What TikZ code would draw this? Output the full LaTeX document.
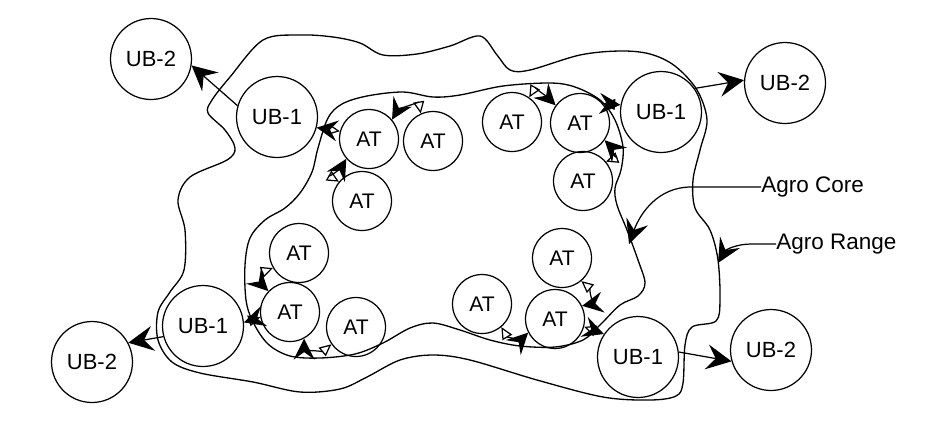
\documentclass[tikz,border=0pt]{standalone}
\usepackage{fontspec}
\setmainfont{Liberation Sans}
\usepackage{xcolor}
\usetikzlibrary{arrows.meta}
\definecolor{InkBlack}{RGB}{0,0,0}
\tikzset{
  ubcirc/.style={circle, draw=InkBlack, line width=0.7pt, minimum size=1.62cm, inner sep=0pt,
    font=\fontsize{12.5}{14}\selectfont},
  atcirc/.style={circle, draw=InkBlack, line width=0.7pt, minimum size=1.18cm, inner sep=0pt,
    font=\fontsize{12}{14}\selectfont},
  zone/.style={draw=InkBlack, line width=0.75pt},
  zonelbl/.style={anchor=west, inner sep=0pt, font=\fontsize{12.8}{14}\selectfont},
  ubarr/.style={-{Stealth[length=0.5cm, width=0.5cm, inset=0.18cm]}, line width=0.7pt, InkBlack},
  atarr/.style={{Triangle[open, length=2.4mm, width=2.2mm]}-{Stealth[length=0.42cm, width=0.42cm, inset=0.15cm]},
    line width=0.7pt, InkBlack},
  leadarr/.style={-{Stealth[length=0.48cm, width=0.46cm, inset=0.18cm]}, line width=0.7pt, InkBlack},
}

\begin{document}
\begin{tikzpicture}[x=0.02cm, y=-0.02cm]
  \useasboundingbox (0,0) rectangle (949,427);
  % zones
  \draw[zone] plot[smooth cycle, tension=0.55] coordinates {
    (263,40) (300,35) (333,37) (360,43) (383,55) (417,54) (450,46) (480,36) (497,55) (510,70)
    (530,70) (580,55) (620,51) (650,54) (675,66) (697,90) (707,120) (700,150) (693,180) (695,208)
    (710,230) (718,260) (720,300) (716,321) (692,327) (685,345) (683,383) (676,396) (650,400)
    (603,397) (537,380) (470,360) (433,355) (400,360) (367,377) (340,389) (300,392) (253,382)
    (200,373) (172,362) (158,340) (158,312) (170,292) (184,270) (185,230) (178,200) (190,177)
    (227,160) (235,148) (225,130) (208,113) (212,100) (230,77)};
  \draw[zone] plot[smooth cycle, tension=0.55] coordinates {
    (328,118) (342,104) (367,96) (403,92) (433,97) (460,95) (503,86) (550,83) (575,87) (600,100)
    (615,120) (623,147) (621,170) (615,188) (617,205) (627,230) (638,260) (645,283) (638,296)
    (620,305) (600,325) (583,340) (555,347) (520,346) (490,340) (460,330) (433,323) (410,328)
    (383,343) (355,354) (320,358) (290,356) (268,344) (253,322) (246,300) (245,265) (250,238)
    (265,220) (285,208) (300,193) (312,172) (318,148)};

  \node[ubcirc] (ubA2) at (151,59) {UB-2};
  \node[ubcirc] (ubA1) at (277,117) {UB-1};
  \node[atcirc] (atA1) at (369,139) {AT};
  \node[atcirc] (atA2) at (433,141) {AT};
  \node[atcirc] (atA3) at (362,201) {AT};
  \node[ubcirc] (ubB1) at (661,112) {UB-1};
  \node[ubcirc] (ubB2) at (785,83) {UB-2};
  \node[atcirc] (atB1) at (512,122) {AT};
  \node[atcirc] (atB2) at (580,123) {AT};
  \node[atcirc] (atB3) at (583,181) {AT};
  \node[ubcirc] (ubC1) at (203,326) {UB-1};
  \node[ubcirc] (ubC2) at (92,362) {UB-2};
  \node[atcirc] (atC1) at (299,253) {AT};
  \node[atcirc] (atC2) at (290,312) {AT};
  \node[atcirc] (atC3) at (356,327) {AT};
  \node[ubcirc] (ubD1) at (638,357) {UB-1};
  \node[ubcirc] (ubD2) at (771,350) {UB-2};
  \node[atcirc] (atD1) at (562,258) {AT};
  \node[atcirc] (atD2) at (555,319) {AT};
  \node[atcirc] (atD3) at (482,304) {AT};

  \draw[ubarr] (ubA1.164) -- (ubA2.351);
  \draw[ubarr] (ubB1.35) -- (ubB2.176);
  \draw[ubarr] (ubC1.195) -- (ubC2.28);
  \draw[ubarr] (ubD1.7) -- (ubD2.196);

  \draw[atarr] (atA1.165) -- (ubA1.345);
  \draw[atarr] (atA2.114) to[out=100, in=60] (atA1.40);
  \draw[atarr] (atA3.140) to[out=150, in=240] (atA1.221);
  \draw[atarr] (atB1.55) to[out=60, in=135] (atB2.144);
  \draw[atarr] (atB2.40) -- (ubB1.170);
  \draw[atarr] (atB3.40) to[out=20, in=-45] (atB2.-35);
  \draw[atarr] (atC1.210) to[out=200, in=135] (atC2.136);
  \draw[atarr] (atC2.190) -- (ubC1.5);
  \draw[atarr] (atC3.215) to[out=220, in=-90] (atC2.-62);
  \draw[atarr] (atD1.-50) to[out=-40, in=10] (atD2.26);
  \draw[atarr] (atD3.-50) to[out=-60, in=225] (atD2.207);
  \draw[atarr] (atD2.-15) -- (ubD1.146);

  \node[zonelbl] (coreLbl) at (761,187) {Agro Core};
  \node[zonelbl] (rangeLbl) at (776,244) {Agro Range};
  \coordinate (coreTip) at (629,244);
  \coordinate (rangeTip) at (718,263);
  \draw[leadarr] (coreLbl.west) -- ++(-70,0) to[out=180, in=70] (coreTip);
  \draw[leadarr] (rangeLbl.west) -- ++(-25,0) to[out=180, in=60] (rangeTip);
\end{tikzpicture}
\end{document}
